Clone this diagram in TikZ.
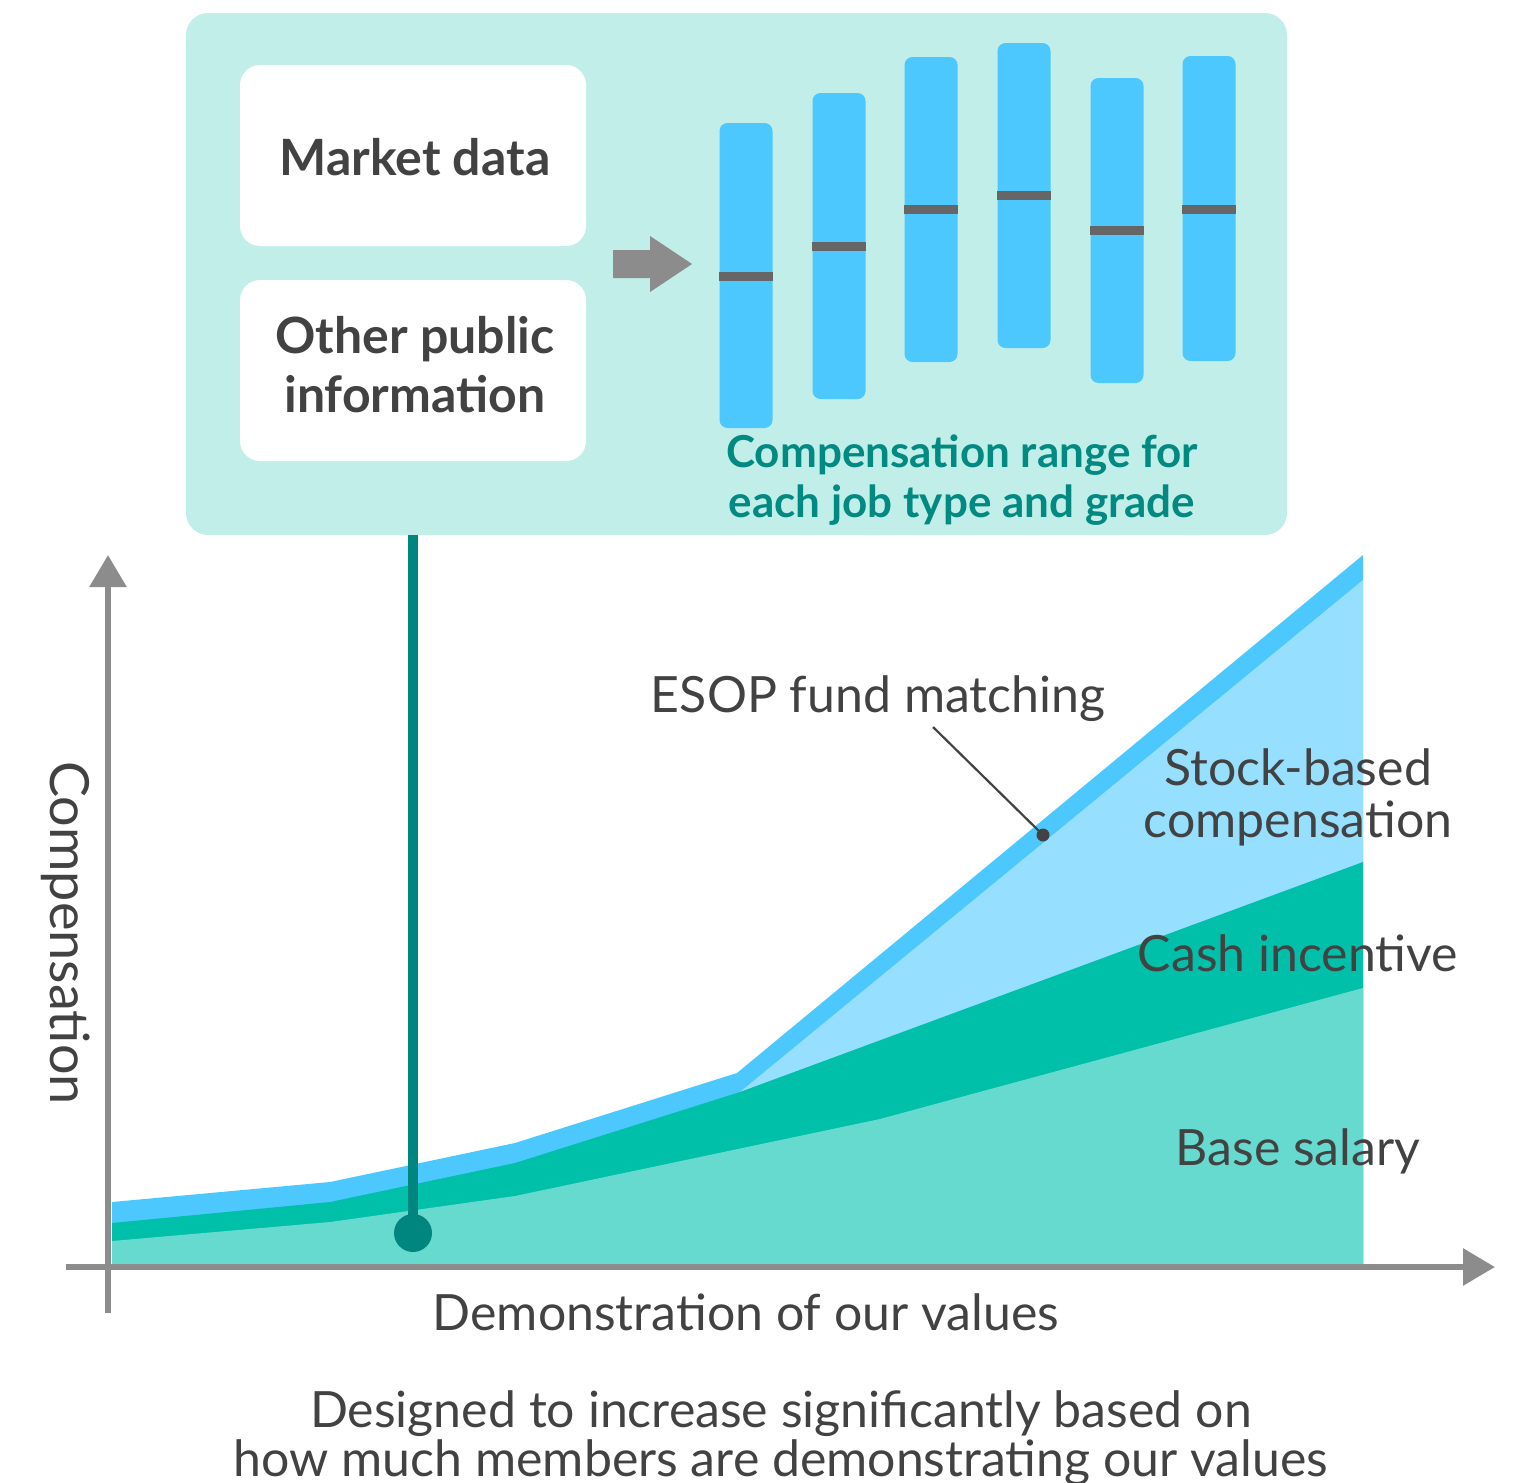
\documentclass[tikz,border=0pt]{standalone}
\usepackage{fontspec}
\setmainfont{Lato}
\usetikzlibrary{arrows.meta}
\definecolor{boxbg}{HTML}{C2EEE9}
\definecolor{barblue}{HTML}{4DC8FF}
\definecolor{markgray}{HTML}{666666}
\definecolor{axisgray}{HTML}{8C8C8C}
\definecolor{esopc}{HTML}{4DC8FF}
\definecolor{stockc}{HTML}{96DFFF}
\definecolor{cashc}{HTML}{00C0AA}
\definecolor{basec}{HTML}{66DACE}
\definecolor{tealc}{HTML}{00857F}
\definecolor{txt}{HTML}{424242}
\definecolor{tealtxt}{HTML}{008A82}
\tikzset{
  whitebox/.style={fill=white, rounded corners=20pt, minimum width=346pt, minimum height=181pt, inner sep=0pt},
  boldlbl/.style={text=txt, font=\fontsize{50}{59}\selectfont\bfseries, inner sep=0pt, anchor=base},
  teallbl/.style={text=tealtxt, font=\fontsize{44}{50}\selectfont\bfseries, inner sep=0pt, anchor=base},
  lbl/.style={text=txt, font=\fontsize{50}{53}\selectfont, inner sep=0pt, anchor=base},
  rangebar/.style={fill=barblue, rounded corners=8pt, minimum width=53pt, inner sep=0pt},
  midmark/.style={fill=markgray},
  axisline/.style={draw=axisgray, line width=6pt, -{Triangle[length=32pt,width=36pt]}},
}
\begin{document}
\begin{tikzpicture}[x=1pt,y=-1pt]
\useasboundingbox (0,0) rectangle (1521,1483);
\clip (0,0) rectangle (1521,1483);

% ---------- top panel ----------
\node[fill=boxbg, rounded corners=22pt, minimum width=1101pt, minimum height=522pt, inner sep=0pt] (panel) at (736.5,274) {};
\node[whitebox] (market) at (413,155.5) {};
\node[whitebox] (other) at (413,370.5) {};
\node[boldlbl] (marketlbl) at (415,175) {Market data};
\node[boldlbl] (otherlbl1) at (415,353) {Other public};
\node[boldlbl] (otherlbl2) at (415,412) {information};

% block arrow
\fill[axisgray] (613,250) -- (650,250) -- (650,236) -- (692,264) -- (650,292) -- (650,278) -- (613,278) -- cycle;

% range bars
\foreach \n/\cx/\top/\bot/\m in {1/746/123/428/276, 2/839/93/399/246, 3/931/57/362/209, 4/1024/43/348/195, 5/1117/78/383/230, 6/1209/56/361/209}{
  \node[rangebar, minimum height={\bot-\top}] (bar\n) at (\cx,{(\top+\bot)/2}) {};
  \fill[midmark] (\cx-27,\m-4.5) rectangle (\cx+27,\m+4.5);
}
\node[teallbl] (rangelbl1) at (962,467) {Compensation range for};
\node[teallbl] (rangelbl2) at (962,517) {each job type and grade};

% ---------- chart areas ----------
\fill[esopc] (112,1267) -- (112,1202) -- (330,1182) -- (515,1143) -- (737,1073) -- (1363,555) -- (1363,1267) -- cycle;
\fill[stockc] (740,1092) -- (1363,580) -- (1363,1267) -- (740,1267) -- cycle;
\fill[cashc] (112,1267) -- (112,1223) -- (330,1202) -- (515,1163) -- (740,1092) -- (1363,862) -- (1363,1267) -- cycle;
\fill[basec] (112,1267) -- (112,1241) -- (330,1222) -- (515,1196) -- (880,1119) -- (1363,988) -- (1363,1267) -- cycle;

% axes
\coordinate (yfoot) at (108,1313);
\coordinate (ytip) at (108,555);
\coordinate (xfoot) at (66,1267);
\coordinate (xtip) at (1495,1267);
\draw[axisline] (yfoot) -- (ytip);
\draw[axisline] (xfoot) -- (xtip);

% teal connector from panel to point
\node[circle, fill=tealc, minimum size=38pt, inner sep=0pt] (point) at (413,1233) {};
\draw[tealc, line width=10pt] (panel.south -| point) -- (point.center);

% ESOP leader
\coordinate (esopdot) at (1043,835);
\coordinate (esopstart) at (933,727);
\fill[txt] (esopdot) circle (6.5pt);
\draw[txt, line width=2.2pt] (esopstart) -- (esopdot);

% labels
\node[lbl] (esoplbl) at (878,712) {ESOP fund matching};
\node[lbl] (stocklbl1) at (1298,785) {Stock-based};
\node[lbl] (stocklbl2) at (1298,837) {compensation};
\node[lbl] (cashlbl) at (1298,971) {Cash incentive};
\node[lbl] (baselbl) at (1298,1165) {Base salary};
\node[lbl, rotate=-90, font=\fontsize{54}{60}\selectfont] (ylbl) at (50,933) {Compensation};
\node[lbl] (xlbl) at (746,1330) {Demonstration of our values};
\node[lbl] (note1) at (781,1427) {Designed to increase significantly based on};
\node[lbl] (note2) at (781,1476) {how much members are demonstrating our values};
\end{tikzpicture}
\end{document}
